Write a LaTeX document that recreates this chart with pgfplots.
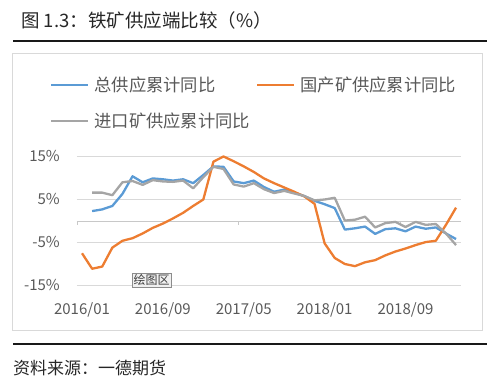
\documentclass[border=0pt]{standalone}
\usepackage{fontspec}
\setmainfont{Noto Sans CJK SC}
\usepackage{pgfplots}
\usepackage{pgfplotstable}
\pgfplotsset{compat=1.18}

\definecolor{cblue}{HTML}{5B9BD5}
\definecolor{corange}{HTML}{ED7D31}
\definecolor{cgray}{HTML}{A5A5A5}
\definecolor{ctext}{HTML}{595959}
\definecolor{cgrid}{HTML}{D9D9D9}
\definecolor{caxis}{HTML}{C8C8C8}

\pgfplotstableread{
i total domestic import
0 nan -7.5 nan
1 2.3 -11.1 6.6
2 2.7 -10.6 6.6
3 3.5 -6.2 6.0
4 6.3 -4.6 9.0
5 10.4 -4.0 9.3
6 9.0 -2.9 8.4
7 9.9 -1.6 9.5
8 9.7 -0.6 9.2
9 9.4 0.6 9.1
10 9.7 1.9 9.4
11 8.8 3.5 7.6
12 10.7 5.0 10.2
13 12.7 13.8 12.6
14 12.6 15.0 12.1
15 9.2 13.9 8.5
16 8.8 12.7 8.0
17 9.4 11.4 8.8
18 7.9 9.9 7.4
19 6.8 8.8 6.5
20 7.3 7.8 7.0
21 6.6 6.8 6.4
22 5.8 5.7 5.8
23 4.7 4.0 4.8
24 3.9 -5.2 5.0
25 3.0 -8.6 5.4
26 -2.0 -10.0 0.1
27 -1.7 -10.5 0.3
28 -1.3 -9.6 1.0
29 -3.0 -9.1 -1.5
30 -1.9 -8.0 -0.5
31 -1.7 -7.1 -0.2
32 -2.4 -6.4 -1.4
33 -1.3 -5.6 -0.2
34 -1.8 -4.9 -0.9
35 -1.5 -4.6 -0.7
36 -2.9 -0.9 -2.9
37 -4.2 3.1 -5.6
}\datatable

\begin{document}
\begin{tikzpicture}
\path[use as bounding box] (0bp,0bp) rectangle (500bp,380bp);
% title and rules
\node[anchor=west, font=\fontsize{18.5bp}{22bp}\selectfont, text=black!85, inner sep=0pt] at (21bp,360bp) {图 1.3：铁矿供应端比较（\%）};
\draw[line width=1.6bp, black!90] (13bp,339bp) -- (487bp,339bp);
\draw[cgrid, line width=0.9bp] (12.7bp,326.5bp) rectangle (482bp,50bp);
\draw[line width=1.6bp, black!90] (13bp,36bp) -- (487bp,36bp);
\node[anchor=west, font=\fontsize{17bp}{20bp}\selectfont, text=black!85, inner sep=0pt] at (13bp,12bp) {资料来源：一德期货};

% zero axis line with tick marks
\begin{axis}[
  at={(76.95bp,94.5bp)}, anchor=south west,
  scale only axis, width=384.15bp, height=129bp,
  xmin=-0.5, xmax=37.5, ymin=-15, ymax=15,
  axis x line=middle, axis y line=none,
  x axis line style={-, draw=caxis, line width=0.9bp},
  xtick={-0.5,15.5,31.5}, xticklabels={},
  ytick=\empty,
  tick align=outside, major tick length=4bp,
  x tick style={draw=caxis, line width=0.9bp},
]
\end{axis}

\begin{axis}[
  at={(76.95bp,94.5bp)}, anchor=south west,
  scale only axis, width=384.15bp, height=129bp,
  xmin=-0.5, xmax=37.5, ymin=-15, ymax=15,
  axis line style={draw=none},
  clip=false,
  ytick={-15,-5,5,15},
  yticklabels={-15\%,-5\%,5\%,15\%},
  ymajorgrids, grid style={cgrid, line width=0.9bp},
  major tick length=0pt,
  xtick={0,8,16,24,32},
  xticklabels={2016/01,2016/09,2017/05,2018/01,2018/09},
  ticklabel style={font=\fontsize{15bp}{18bp}\selectfont, text=ctext},
  yticklabel style={inner sep=0pt, anchor=east, xshift=-16.95bp},
  xticklabel style={inner sep=0pt, anchor=north, yshift=-16.5bp},
  unbounded coords=jump,
  legend columns=2,
  legend cell align=left,
  legend style={at={(-0.078,1.636)}, anchor=north west, draw=none, fill=none,
    font=\fontsize{17.3bp}{20bp}\selectfont, text=ctext,
    nodes={inner sep=0pt}, column sep=5bp, row sep=20bp,
    /tikz/every even column/.append style={column sep=6bp}},
  legend image code/.code={\draw[#1] (0bp,0bp) -- (37bp,0bp);},
  every axis plot/.append style={line width=2.3bp, line join=round, no markers},
]
\addplot[cblue] table[x=i, y=total] {\datatable};
\addlegendentry{总供应累计同比}
\addplot[corange] table[x=i, y=domestic] {\datatable};
\addlegendentry{国产矿供应累计同比}
\addplot[cgray] table[x=i, y=import] {\datatable};
\addlegendentry{进口矿供应累计同比}
\end{axis}

% plot-area tooltip
\node[draw=black!45, fill=black!6, inner sep=1.5bp, font=\fontsize{12bp}{14bp}\selectfont, text=black!75] at (151.5bp,100bp) {绘图区};
\end{tikzpicture}
\end{document}
